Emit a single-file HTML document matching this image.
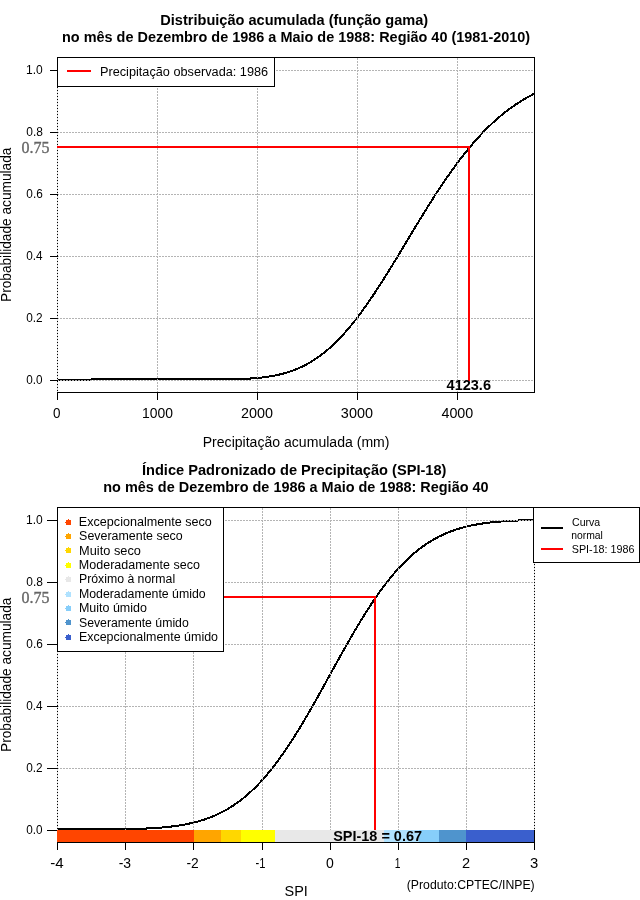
<!DOCTYPE html>
<html><head><meta charset="utf-8"><title>SPI</title>
<style>
html,body{margin:0;padding:0;background:#fff;}
body{width:640px;height:900px;overflow:hidden;}
svg{display:block;will-change:transform;}
text{font-family:"Liberation Sans",sans-serif;fill:#000;}
.b{font-weight:bold;}
.se{font-family:"Liberation Serif",serif;fill:#666;stroke:#666;stroke-width:0.35;}
.g{stroke:#b4b4b4;stroke-width:1;stroke-dasharray:2 1;fill:none;}
.e{stroke:#dcdcdc;stroke-width:1;stroke-dasharray:2 1;fill:none;}
.k{stroke:#000;stroke-width:1;fill:none;}
.r{stroke:#ff0000;stroke-width:2;fill:none;}
.c{stroke:#000;stroke-width:2;fill:none;stroke-linejoin:round;}
</style></head><body>
<svg width="640" height="900" viewBox="0 0 640 900">
<rect x="0" y="0" width="640" height="900" fill="#ffffff"/>

<g shape-rendering="crispEdges">
<path class="c" d="M57.50,379.60 L58.50,379.60 L59.50,379.60 L60.50,379.60 L61.50,379.60 L62.50,379.60 L63.50,379.60 L64.50,379.60 L65.50,379.60 L66.50,379.60 L67.50,379.60 L68.50,379.60 L69.50,379.60 L70.50,379.60 L71.50,379.60 L72.50,379.60 L73.50,379.60 L74.50,379.60 L75.50,379.60 L76.50,379.60 L77.50,379.60 L78.50,379.60 L79.50,379.60 L80.50,379.60 L81.50,379.60 L82.50,379.60 L83.50,379.60 L84.50,379.60 L85.50,379.60 L86.50,379.60 L87.50,379.60 L88.50,379.60 L89.50,379.60 L90.50,379.60 L91.50,379.45 L92.50,379.45 L93.50,379.45 L94.50,379.45 L95.50,379.45 L96.50,379.45 L97.50,379.45 L98.50,379.45 L99.50,379.45 L100.50,379.45 L101.50,379.45 L102.50,379.45 L103.50,379.45 L104.50,379.45 L105.50,379.45 L106.50,379.45 L107.50,379.45 L108.50,379.45 L109.50,379.45 L110.50,379.45 L111.50,379.45 L112.50,379.45 L113.50,379.45 L114.50,379.45 L115.50,379.45 L116.50,379.45 L117.50,379.45 L118.50,379.45 L119.50,379.45 L120.50,379.45 L121.50,379.45 L122.50,379.45 L123.50,379.45 L124.50,379.45 L125.50,379.45 L126.50,379.45 L127.50,379.45 L128.50,379.45 L129.50,379.45 L130.50,379.45 L131.50,379.45 L132.50,379.45 L133.50,379.45 L134.50,379.45 L135.50,379.45 L136.50,379.45 L137.50,379.45 L138.50,379.45 L139.50,379.45 L140.50,379.45 L141.50,379.45 L142.50,379.45 L143.50,379.45 L144.50,379.45 L145.50,379.45 L146.50,379.45 L147.50,379.45 L148.50,379.45 L149.50,379.45 L150.50,379.45 L151.50,379.45 L152.50,379.45 L153.50,379.45 L154.50,379.45 L155.50,379.45 L156.50,379.45 L157.50,379.45 L158.50,379.45 L159.50,379.45 L160.50,379.45 L161.50,379.45 L162.50,379.45 L163.50,379.45 L164.50,379.45 L165.50,379.45 L166.50,379.45 L167.50,379.45 L168.50,379.45 L169.50,379.45 L170.50,379.45 L171.50,379.45 L172.50,379.45 L173.50,379.45 L174.50,379.45 L175.50,379.45 L176.50,379.45 L177.50,379.45 L178.50,379.45 L179.50,379.45 L180.50,379.45 L181.50,379.45 L182.50,379.45 L183.50,379.45 L184.50,379.45 L185.50,379.45 L186.50,379.45 L187.50,379.45 L188.50,379.45 L189.50,379.45 L190.50,379.45 L191.50,379.45 L192.50,379.45 L193.50,379.45 L194.50,379.45 L195.50,379.45 L196.50,379.45 L197.50,379.45 L198.50,379.45 L199.50,379.45 L200.50,379.45 L201.50,379.45 L202.50,379.45 L203.50,379.45 L204.50,379.45 L205.50,379.45 L206.50,379.45 L207.50,379.45 L208.50,379.45 L209.50,379.45 L210.50,379.45 L211.50,379.45 L212.50,379.45 L213.50,379.45 L214.50,379.45 L215.50,379.45 L216.50,379.45 L217.50,379.45 L218.50,379.45 L219.50,379.45 L220.50,379.45 L221.50,379.45 L222.50,379.45 L223.50,379.44 L224.50,379.42 L225.50,379.41 L226.50,379.39 L227.50,379.38 L228.50,379.36 L229.50,379.34 L230.50,379.32 L231.50,379.30 L232.50,379.27 L233.50,379.25 L234.50,379.22 L235.50,379.20 L236.50,379.17 L237.50,379.13 L238.50,379.10 L239.50,379.07 L240.50,379.03 L241.50,378.99 L242.50,378.95 L243.50,378.90 L244.50,378.85 L245.50,378.80 L246.50,378.75 L247.50,378.70 L248.50,378.64 L249.50,378.58 L250.50,378.51 L251.50,378.44 L252.50,378.37 L253.50,378.30 L254.50,378.22 L255.50,378.13 L256.50,378.04 L257.50,377.95 L258.50,377.86 L259.50,377.76 L260.50,377.65 L261.50,377.54 L262.50,377.42 L263.50,377.30 L264.50,377.18 L265.50,377.04 L266.50,376.91 L267.50,376.76 L268.50,376.61 L269.50,376.46 L270.50,376.29 L271.50,376.12 L272.50,375.95 L273.50,375.76 L274.50,375.57 L275.50,375.37 L276.50,375.17 L277.50,374.95 L278.50,374.73 L279.50,374.50 L280.50,374.26 L281.50,374.01 L282.50,373.76 L283.50,373.49 L284.50,373.21 L285.50,372.93 L286.50,372.64 L287.50,372.33 L288.50,372.02 L289.50,371.69 L290.50,371.35 L291.50,371.01 L292.50,370.65 L293.50,370.28 L294.50,369.90 L295.50,369.51 L296.50,369.11 L297.50,368.69 L298.50,368.26 L299.50,367.83 L300.50,367.37 L301.50,366.91 L302.50,366.43 L303.50,365.94 L304.50,365.44 L305.50,364.92 L306.50,364.39 L307.50,363.84 L308.50,363.28 L309.50,362.71 L310.50,362.13 L311.50,361.52 L312.50,360.91 L313.50,360.28 L314.50,359.63 L315.50,358.98 L316.50,358.30 L317.50,357.61 L318.50,356.91 L319.50,356.19 L320.50,355.45 L321.50,354.70 L322.50,353.94 L323.50,353.15 L324.50,352.36 L325.50,351.55 L326.50,350.72 L327.50,349.87 L328.50,349.01 L329.50,348.14 L330.50,347.25 L331.50,346.34 L332.50,345.41 L333.50,344.48 L334.50,343.52 L335.50,342.55 L336.50,341.56 L337.50,340.56 L338.50,339.54 L339.50,338.51 L340.50,337.46 L341.50,336.39 L342.50,335.31 L343.50,334.21 L344.50,333.10 L345.50,331.97 L346.50,330.83 L347.50,329.67 L348.50,328.50 L349.50,327.31 L350.50,326.11 L351.50,324.89 L352.50,323.66 L353.50,322.42 L354.50,321.16 L355.50,319.88 L356.50,318.60 L357.50,317.29 L358.50,315.98 L359.50,314.65 L360.50,313.31 L361.50,311.95 L362.50,310.59 L363.50,309.21 L364.50,307.81 L365.50,306.41 L366.50,304.99 L367.50,303.56 L368.50,302.13 L369.50,300.68 L370.50,299.21 L371.50,297.74 L372.50,296.26 L373.50,294.77 L374.50,293.26 L375.50,291.75 L376.50,290.23 L377.50,288.70 L378.50,287.16 L379.50,285.61 L380.50,284.06 L381.50,282.49 L382.50,280.92 L383.50,279.34 L384.50,277.76 L385.50,276.16 L386.50,274.56 L387.50,272.96 L388.50,271.35 L389.50,269.73 L390.50,268.11 L391.50,266.48 L392.50,264.85 L393.50,263.22 L394.50,261.58 L395.50,259.93 L396.50,258.29 L397.50,256.64 L398.50,254.99 L399.50,253.33 L400.50,251.67 L401.50,250.02 L402.50,248.36 L403.50,246.69 L404.50,245.03 L405.50,243.37 L406.50,241.71 L407.50,240.04 L408.50,238.38 L409.50,236.72 L410.50,235.06 L411.50,233.40 L412.50,231.74 L413.50,230.08 L414.50,228.43 L415.50,226.78 L416.50,225.13 L417.50,223.48 L418.50,221.84 L419.50,220.20 L420.50,218.57 L421.50,216.93 L422.50,215.31 L423.50,213.68 L424.50,212.07 L425.50,210.45 L426.50,208.85 L427.50,207.25 L428.50,205.65 L429.50,204.06 L430.50,202.48 L431.50,200.90 L432.50,199.33 L433.50,197.77 L434.50,196.21 L435.50,194.66 L436.50,193.12 L437.50,191.59 L438.50,190.06 L439.50,188.54 L440.50,187.03 L441.50,185.53 L442.50,184.04 L443.50,182.56 L444.50,181.08 L445.50,179.62 L446.50,178.16 L447.50,176.72 L448.50,175.28 L449.50,173.86 L450.50,172.44 L451.50,171.03 L452.50,169.64 L453.50,168.25 L454.50,166.88 L455.50,165.51 L456.50,164.16 L457.50,162.82 L458.50,161.48 L459.50,160.16 L460.50,158.85 L461.50,157.55 L462.50,156.26 L463.50,154.99 L464.50,153.72 L465.50,152.47 L466.50,151.23 L467.50,150.00 L468.50,148.78 L469.50,147.57 L470.50,146.37 L471.50,145.19 L472.50,144.02 L473.50,142.86 L474.50,141.71 L475.50,140.57 L476.50,139.45 L477.50,138.33 L478.50,137.23 L479.50,136.14 L480.50,135.07 L481.50,134.00 L482.50,132.95 L483.50,131.91 L484.50,130.88 L485.50,129.86 L486.50,128.86 L487.50,127.86 L488.50,126.88 L489.50,125.91 L490.50,124.95 L491.50,124.01 L492.50,123.07 L493.50,122.15 L494.50,121.24 L495.50,120.34 L496.50,119.45 L497.50,118.57 L498.50,117.71 L499.50,116.85 L500.50,116.01 L501.50,115.18 L502.50,114.36 L503.50,113.55 L504.50,112.75 L505.50,111.97 L506.50,111.19 L507.50,110.43 L508.50,109.67 L509.50,108.93 L510.50,108.20 L511.50,107.48 L512.50,106.76 L513.50,106.06 L514.50,105.37 L515.50,104.69 L516.50,104.02 L517.50,103.36 L518.50,102.71 L519.50,102.07 L520.50,101.45 L521.50,100.83 L522.50,100.21 L523.50,99.61 L524.50,99.02 L525.50,98.44 L526.50,97.87 L527.50,97.31 L528.50,96.75 L529.50,96.21 L530.50,95.67 L531.50,95.14 L532.50,94.63 L533.50,94.12 L534.50,93.62"/>
<rect class="k" x="57.5" y="57.5" width="477.0" height="335.0"/>
<line class="g" x1="157.5" y1="58.0" x2="157.5" y2="392.0"/>
<line class="g" x1="257.5" y1="58.0" x2="257.5" y2="392.0"/>
<line class="g" x1="357.5" y1="58.0" x2="357.5" y2="392.0"/>
<line class="g" x1="457.5" y1="58.0" x2="457.5" y2="392.0"/>
<line class="g" stroke-dashoffset="1" x1="58.0" y1="70.5" x2="534.0" y2="70.5"/>
<line class="g" stroke-dashoffset="1" x1="58.0" y1="132.5" x2="534.0" y2="132.5"/>
<line class="g" stroke-dashoffset="1" x1="58.0" y1="194.5" x2="534.0" y2="194.5"/>
<line class="g" stroke-dashoffset="1" x1="58.0" y1="256.5" x2="534.0" y2="256.5"/>
<line class="g" stroke-dashoffset="1" x1="58.0" y1="318.5" x2="534.0" y2="318.5"/>
<line class="g" stroke-dashoffset="1" x1="58.0" y1="380.5" x2="534.0" y2="380.5"/>
<line class="e" x1="57.5" y1="58.0" x2="57.5" y2="392.0"/>
<line class="k" x1="50" y1="70.5" x2="57.5" y2="70.5"/>
<line class="k" x1="50" y1="132.5" x2="57.5" y2="132.5"/>
<line class="k" x1="50" y1="194.5" x2="57.5" y2="194.5"/>
<line class="k" x1="50" y1="256.5" x2="57.5" y2="256.5"/>
<line class="k" x1="50" y1="318.5" x2="57.5" y2="318.5"/>
<line class="k" x1="50" y1="380.5" x2="57.5" y2="380.5"/>
<path class="r" d="M57,147 H470 M469,146 V380.5"/>
<line class="k" x1="57.5" y1="392.5" x2="57.5" y2="400"/>
<line class="k" x1="157.5" y1="392.5" x2="157.5" y2="400"/>
<line class="k" x1="257.5" y1="392.5" x2="257.5" y2="400"/>
<line class="k" x1="357.5" y1="392.5" x2="357.5" y2="400"/>
<line class="k" x1="457.5" y1="392.5" x2="457.5" y2="400"/>
<rect x="57.5" y="57.5" width="217" height="29" fill="#fff" stroke="#000" stroke-width="1"/>
<line class="r" x1="67" y1="71" x2="91" y2="71"/>
</g>
<text transform="translate(11,302) rotate(-90)" x="0" y="0" font-size="14" textLength="154.4" lengthAdjust="spacingAndGlyphs">Probabilidade acumulada</text>
<g shape-rendering="crispEdges">
<path class="c" d="M57.50,829.45 L58.50,829.45 L59.50,829.45 L60.50,829.45 L61.50,829.45 L62.50,829.45 L63.50,829.45 L64.50,829.45 L65.50,829.45 L66.50,829.45 L67.50,829.45 L68.50,829.45 L69.50,829.45 L70.50,829.45 L71.50,829.45 L72.50,829.45 L73.50,829.45 L74.50,829.45 L75.50,829.45 L76.50,829.45 L77.50,829.45 L78.50,829.45 L79.50,829.45 L80.50,829.45 L81.50,829.45 L82.50,829.45 L83.50,829.45 L84.50,829.45 L85.50,829.45 L86.50,829.45 L87.50,829.45 L88.50,829.45 L89.50,829.45 L90.50,829.45 L91.50,829.45 L92.50,829.45 L93.50,829.45 L94.50,829.45 L95.50,829.45 L96.50,829.45 L97.50,829.45 L98.50,829.45 L99.50,829.45 L100.50,829.45 L101.50,829.45 L102.50,829.45 L103.50,829.45 L104.50,829.45 L105.50,829.45 L106.50,829.44 L107.50,829.43 L108.50,829.42 L109.50,829.41 L110.50,829.40 L111.50,829.39 L112.50,829.38 L113.50,829.37 L114.50,829.36 L115.50,829.35 L116.50,829.33 L117.50,829.32 L118.50,829.30 L119.50,829.29 L120.50,829.27 L121.50,829.26 L122.50,829.24 L123.50,829.22 L124.50,829.20 L125.50,829.18 L126.50,829.16 L127.50,829.14 L128.50,829.12 L129.50,829.10 L130.50,829.07 L131.50,829.05 L132.50,829.02 L133.50,828.99 L134.50,828.96 L135.50,828.93 L136.50,828.90 L137.50,828.87 L138.50,828.84 L139.50,828.80 L140.50,828.76 L141.50,828.72 L142.50,828.68 L143.50,828.64 L144.50,828.60 L145.50,828.55 L146.50,828.51 L147.50,828.46 L148.50,828.41 L149.50,828.35 L150.50,828.30 L151.50,828.24 L152.50,828.18 L153.50,828.12 L154.50,828.05 L155.50,827.99 L156.50,827.92 L157.50,827.84 L158.50,827.77 L159.50,827.69 L160.50,827.61 L161.50,827.53 L162.50,827.44 L163.50,827.35 L164.50,827.26 L165.50,827.16 L166.50,827.06 L167.50,826.96 L168.50,826.85 L169.50,826.74 L170.50,826.62 L171.50,826.51 L172.50,826.38 L173.50,826.26 L174.50,826.12 L175.50,825.99 L176.50,825.85 L177.50,825.70 L178.50,825.55 L179.50,825.39 L180.50,825.23 L181.50,825.07 L182.50,824.90 L183.50,824.72 L184.50,824.54 L185.50,824.35 L186.50,824.16 L187.50,823.96 L188.50,823.75 L189.50,823.54 L190.50,823.32 L191.50,823.09 L192.50,822.86 L193.50,822.62 L194.50,822.37 L195.50,822.12 L196.50,821.85 L197.50,821.58 L198.50,821.31 L199.50,821.02 L200.50,820.73 L201.50,820.43 L202.50,820.12 L203.50,819.80 L204.50,819.47 L205.50,819.13 L206.50,818.79 L207.50,818.43 L208.50,818.07 L209.50,817.69 L210.50,817.31 L211.50,816.91 L212.50,816.51 L213.50,816.09 L214.50,815.67 L215.50,815.23 L216.50,814.78 L217.50,814.33 L218.50,813.86 L219.50,813.38 L220.50,812.88 L221.50,812.38 L222.50,811.86 L223.50,811.34 L224.50,810.80 L225.50,810.24 L226.50,809.68 L227.50,809.10 L228.50,808.51 L229.50,807.90 L230.50,807.29 L231.50,806.66 L232.50,806.01 L233.50,805.35 L234.50,804.68 L235.50,804.00 L236.50,803.30 L237.50,802.58 L238.50,801.85 L239.50,801.11 L240.50,800.35 L241.50,799.58 L242.50,798.79 L243.50,797.99 L244.50,797.17 L245.50,796.34 L246.50,795.49 L247.50,794.63 L248.50,793.75 L249.50,792.86 L250.50,791.95 L251.50,791.02 L252.50,790.08 L253.50,789.12 L254.50,788.15 L255.50,787.16 L256.50,786.15 L257.50,785.13 L258.50,784.10 L259.50,783.04 L260.50,781.97 L261.50,780.89 L262.50,779.79 L263.50,778.67 L264.50,777.53 L265.50,776.38 L266.50,775.22 L267.50,774.03 L268.50,772.83 L269.50,771.62 L270.50,770.39 L271.50,769.14 L272.50,767.88 L273.50,766.60 L274.50,765.31 L275.50,764.00 L276.50,762.68 L277.50,761.34 L278.50,759.98 L279.50,758.61 L280.50,757.22 L281.50,755.82 L282.50,754.41 L283.50,752.98 L284.50,751.53 L285.50,750.08 L286.50,748.60 L287.50,747.12 L288.50,745.62 L289.50,744.10 L290.50,742.58 L291.50,741.04 L292.50,739.49 L293.50,737.92 L294.50,736.34 L295.50,734.75 L296.50,733.15 L297.50,731.54 L298.50,729.91 L299.50,728.28 L300.50,726.63 L301.50,724.97 L302.50,723.31 L303.50,721.63 L304.50,719.94 L305.50,718.25 L306.50,716.54 L307.50,714.83 L308.50,713.11 L309.50,711.38 L310.50,709.64 L311.50,707.89 L312.50,706.14 L313.50,704.38 L314.50,702.62 L315.50,700.85 L316.50,699.07 L317.50,697.29 L318.50,695.50 L319.50,693.71 L320.50,691.91 L321.50,690.12 L322.50,688.31 L323.50,686.51 L324.50,684.70 L325.50,682.89 L326.50,681.08 L327.50,679.27 L328.50,677.45 L329.50,675.64 L330.50,673.82 L331.50,672.01 L332.50,670.19 L333.50,668.38 L334.50,666.57 L335.50,664.76 L336.50,662.95 L337.50,661.14 L338.50,659.34 L339.50,657.54 L340.50,655.75 L341.50,653.96 L342.50,652.17 L343.50,650.39 L344.50,648.61 L345.50,646.84 L346.50,645.07 L347.50,643.31 L348.50,641.56 L349.50,639.81 L350.50,638.07 L351.50,636.34 L352.50,634.62 L353.50,632.90 L354.50,631.20 L355.50,629.50 L356.50,627.81 L357.50,626.13 L358.50,624.46 L359.50,622.81 L360.50,621.16 L361.50,619.52 L362.50,617.89 L363.50,616.28 L364.50,614.68 L365.50,613.08 L366.50,611.50 L367.50,609.94 L368.50,608.38 L369.50,606.84 L370.50,605.31 L371.50,603.80 L372.50,602.30 L373.50,600.81 L374.50,599.33 L375.50,597.87 L376.50,596.43 L377.50,594.99 L378.50,593.58 L379.50,592.18 L380.50,590.79 L381.50,589.41 L382.50,588.06 L383.50,586.72 L384.50,585.39 L385.50,584.08 L386.50,582.78 L387.50,581.50 L388.50,580.24 L389.50,578.99 L390.50,577.75 L391.50,576.54 L392.50,575.34 L393.50,574.15 L394.50,572.98 L395.50,571.83 L396.50,570.69 L397.50,569.57 L398.50,568.47 L399.50,567.38 L400.50,566.31 L401.50,565.25 L402.50,564.21 L403.50,563.19 L404.50,562.18 L405.50,561.19 L406.50,560.22 L407.50,559.26 L408.50,558.31 L409.50,557.38 L410.50,556.47 L411.50,555.58 L412.50,554.69 L413.50,553.83 L414.50,552.98 L415.50,552.14 L416.50,551.32 L417.50,550.52 L418.50,549.73 L419.50,548.96 L420.50,548.20 L421.50,547.45 L422.50,546.72 L423.50,546.00 L424.50,545.30 L425.50,544.62 L426.50,543.94 L427.50,543.28 L428.50,542.64 L429.50,542.00 L430.50,541.38 L431.50,540.78 L432.50,540.18 L433.50,539.60 L434.50,539.04 L435.50,538.48 L436.50,537.94 L437.50,537.41 L438.50,536.89 L439.50,536.39 L440.50,535.89 L441.50,535.41 L442.50,534.94 L443.50,534.48 L444.50,534.03 L445.50,533.59 L446.50,533.17 L447.50,532.75 L448.50,532.34 L449.50,531.95 L450.50,531.56 L451.50,531.19 L452.50,530.82 L453.50,530.46 L454.50,530.12 L455.50,529.78 L456.50,529.45 L457.50,529.13 L458.50,528.82 L459.50,528.51 L460.50,528.22 L461.50,527.93 L462.50,527.66 L463.50,527.38 L464.50,527.12 L465.50,526.87 L466.50,526.62 L467.50,526.38 L468.50,526.14 L469.50,525.92 L470.50,525.69 L471.50,525.48 L472.50,525.27 L473.50,525.07 L474.50,524.88 L475.50,524.69 L476.50,524.51 L477.50,524.33 L478.50,524.16 L479.50,523.99 L480.50,523.83 L481.50,523.67 L482.50,523.52 L483.50,523.37 L484.50,523.23 L485.50,523.10 L486.50,522.96 L487.50,522.84 L488.50,522.71 L489.50,522.59 L490.50,522.48 L491.50,522.36 L492.50,522.26 L493.50,522.15 L494.50,522.05 L495.50,521.96 L496.50,521.86 L497.50,521.77 L498.50,521.68 L499.50,521.60 L500.50,521.52 L501.50,521.44 L502.50,521.37 L503.50,521.29 L504.50,521.22 L505.50,521.16 L506.50,521.09 L507.50,521.03 L508.50,520.97 L509.50,520.91 L510.50,520.86 L511.50,520.80 L512.50,520.75 L513.50,520.70 L514.50,520.65 L515.50,520.61 L516.50,520.56 L517.50,520.52 L518.50,520.48 L519.50,520.44 L520.50,520.41 L521.50,520.37 L522.50,520.34 L523.50,520.30 L524.50,520.27 L525.50,520.24 L526.50,520.21 L527.50,520.18 L528.50,520.16 L529.50,520.13 L530.50,520.11 L531.50,520.08 L532.50,520.06 L533.50,520.04 L534.50,520.02"/>
<rect class="k" x="57.5" y="507.5" width="477.0" height="335.0"/>
<line class="g" x1="125.5" y1="508.0" x2="125.5" y2="842.0"/>
<line class="g" x1="193.5" y1="508.0" x2="193.5" y2="842.0"/>
<line class="g" x1="262.5" y1="508.0" x2="262.5" y2="842.0"/>
<line class="g" x1="330.5" y1="508.0" x2="330.5" y2="842.0"/>
<line class="g" x1="398.5" y1="508.0" x2="398.5" y2="842.0"/>
<line class="g" x1="466.5" y1="508.0" x2="466.5" y2="842.0"/>
<line class="g" stroke-dashoffset="1" x1="58.0" y1="520.5" x2="534.0" y2="520.5"/>
<line class="g" stroke-dashoffset="1" x1="58.0" y1="582.5" x2="534.0" y2="582.5"/>
<line class="g" stroke-dashoffset="1" x1="58.0" y1="644.5" x2="534.0" y2="644.5"/>
<line class="g" stroke-dashoffset="1" x1="58.0" y1="706.5" x2="534.0" y2="706.5"/>
<line class="g" stroke-dashoffset="1" x1="58.0" y1="768.5" x2="534.0" y2="768.5"/>
<line class="g" stroke-dashoffset="1" x1="58.0" y1="830.5" x2="534.0" y2="830.5"/>
<line class="e" x1="57.5" y1="508.0" x2="57.5" y2="842.0"/>
<line class="e" x1="534.5" y1="508.0" x2="534.5" y2="842.0"/>
<line class="k" x1="47" y1="520.5" x2="57.5" y2="520.5"/>
<line class="k" x1="47" y1="582.5" x2="57.5" y2="582.5"/>
<line class="k" x1="47" y1="644.5" x2="57.5" y2="644.5"/>
<line class="k" x1="47" y1="706.5" x2="57.5" y2="706.5"/>
<line class="k" x1="47" y1="768.5" x2="57.5" y2="768.5"/>
<line class="k" x1="47" y1="830.5" x2="57.5" y2="830.5"/>
<path class="r" d="M224,597 H376 M375,596 V830"/>
<rect x="57" y="830" width="137" height="12" fill="#ff4500"/>
<rect x="194" y="830" width="27" height="12" fill="#ffa500"/>
<rect x="221" y="830" width="20" height="12" fill="#ffd700"/>
<rect x="241" y="830" width="34" height="12" fill="#ffff00"/>
<rect x="275" y="830" width="109" height="12" fill="#e8e8e8"/>
<rect x="384" y="830" width="35" height="12" fill="#b0e2ff"/>
<rect x="419" y="830" width="20" height="12" fill="#87cefa"/>
<rect x="439" y="830" width="27" height="12" fill="#4f94cd"/>
<rect x="466" y="830" width="68" height="12" fill="#3a5fcd"/>
<line class="k" x1="534.5" y1="830" x2="534.5" y2="842"/>
<line class="k" x1="57" y1="842.5" x2="535" y2="842.5"/>
<line class="k" x1="57.5" y1="842.5" x2="57.5" y2="850"/>
<line class="k" x1="125.5" y1="842.5" x2="125.5" y2="850"/>
<line class="k" x1="193.5" y1="842.5" x2="193.5" y2="850"/>
<line class="k" x1="262.5" y1="842.5" x2="262.5" y2="850"/>
<line class="k" x1="330.5" y1="842.5" x2="330.5" y2="850"/>
<line class="k" x1="398.5" y1="842.5" x2="398.5" y2="850"/>
<line class="k" x1="466.5" y1="842.5" x2="466.5" y2="850"/>
<line class="k" x1="534.5" y1="842.5" x2="534.5" y2="850"/>
<rect x="57.5" y="507.5" width="166" height="144" fill="#fff" stroke="#000" stroke-width="1"/>
<rect x="533.5" y="507.5" width="106" height="55" fill="#fff" stroke="#000" stroke-width="1"/>
<line class="c" x1="541" y1="528" x2="563" y2="528"/>
<line class="r" x1="541" y1="549" x2="563" y2="549"/>
<path fill="#ff4500" d="M66,520 h2 v-1 h1 v1 h2 v5 h-5 v-2 h-1 v-1 h1 z"/>
<path fill="#ffa500" d="M66,534 h2 v-1 h1 v1 h2 v5 h-5 v-2 h-1 v-1 h1 z"/>
<path fill="#ffd700" d="M66,548 h2 v-1 h1 v1 h2 v5 h-5 v-2 h-1 v-1 h1 z"/>
<path fill="#ffff00" d="M66,563 h2 v-1 h1 v1 h2 v5 h-5 v-2 h-1 v-1 h1 z"/>
<path fill="#e8e8e8" d="M66,577 h2 v-1 h1 v1 h2 v5 h-5 v-2 h-1 v-1 h1 z"/>
<path fill="#b0e2ff" d="M66,592 h2 v-1 h1 v1 h2 v5 h-5 v-2 h-1 v-1 h1 z"/>
<path fill="#87cefa" d="M66,606 h2 v-1 h1 v1 h2 v5 h-5 v-2 h-1 v-1 h1 z"/>
<path fill="#4f94cd" d="M66,620 h2 v-1 h1 v1 h2 v5 h-5 v-2 h-1 v-1 h1 z"/>
<path fill="#3a5fcd" d="M66,635 h2 v-1 h1 v1 h2 v5 h-5 v-2 h-1 v-1 h1 z"/>
</g>
<text transform="translate(11,752) rotate(-90)" x="0" y="0" font-size="14" textLength="154.4" lengthAdjust="spacingAndGlyphs">Probabilidade acumulada</text>
<text x="25.96" y="74.00" font-size="12" textLength="16.71" lengthAdjust="spacingAndGlyphs">1.0</text>
<text x="26.27" y="136.00" font-size="12" textLength="16.63" lengthAdjust="spacingAndGlyphs">0.8</text>
<text x="26.32" y="198.00" font-size="12" textLength="16.41" lengthAdjust="spacingAndGlyphs">0.6</text>
<text x="26.27" y="260.00" font-size="12" textLength="16.34" lengthAdjust="spacingAndGlyphs">0.4</text>
<text x="26.27" y="322.00" font-size="12" textLength="16.42" lengthAdjust="spacingAndGlyphs">0.2</text>
<text x="26.28" y="384.00" font-size="12" textLength="16.31" lengthAdjust="spacingAndGlyphs">0.0</text>
<text x="21.52" y="152.75" font-size="16" class="se" textLength="27.96" lengthAdjust="spacingAndGlyphs">0.75</text>
<text x="25.96" y="524.00" font-size="12" textLength="16.71" lengthAdjust="spacingAndGlyphs">1.0</text>
<text x="26.27" y="586.00" font-size="12" textLength="16.63" lengthAdjust="spacingAndGlyphs">0.8</text>
<text x="26.32" y="648.00" font-size="12" textLength="16.41" lengthAdjust="spacingAndGlyphs">0.6</text>
<text x="26.27" y="710.00" font-size="12" textLength="16.34" lengthAdjust="spacingAndGlyphs">0.4</text>
<text x="26.27" y="772.00" font-size="12" textLength="16.42" lengthAdjust="spacingAndGlyphs">0.2</text>
<text x="26.28" y="834.00" font-size="12" textLength="16.31" lengthAdjust="spacingAndGlyphs">0.0</text>
<text x="21.52" y="602.75" font-size="16" class="se" textLength="27.96" lengthAdjust="spacingAndGlyphs">0.75</text>
<text x="99.95" y="75.90" font-size="12.5" textLength="168.20" lengthAdjust="spacingAndGlyphs">Precipitação observada: 1986</text>
<text x="160.25" y="24.50" font-size="14.4" class="b" textLength="267.98" lengthAdjust="spacingAndGlyphs">Distribuição acumulada (função gama)</text>
<text x="62.00" y="41.50" font-size="14.4" class="b" textLength="468.18" lengthAdjust="spacingAndGlyphs">no mês de Dezembro de 1986 a Maio de 1988: Região 40 (1981-2010)</text>
<text x="202.72" y="446.50" font-size="14" textLength="186.80" lengthAdjust="spacingAndGlyphs">Precipitação acumulada (mm)</text>
<text x="446.60" y="390.20" font-size="14.3" class="b" textLength="44.36" lengthAdjust="spacingAndGlyphs">4123.6</text>
<text x="78.85" y="525.70" font-size="12.5" textLength="133.03" lengthAdjust="spacingAndGlyphs">Excepcionalmente seco</text>
<text x="79.11" y="540.10" font-size="12.5" textLength="103.63" lengthAdjust="spacingAndGlyphs">Severamente seco</text>
<text x="79.07" y="554.50" font-size="12.5" textLength="61.83" lengthAdjust="spacingAndGlyphs">Muito seco</text>
<text x="78.89" y="568.90" font-size="12.5" textLength="120.97" lengthAdjust="spacingAndGlyphs">Moderadamente seco</text>
<text x="78.95" y="583.30" font-size="12.5" textLength="96.22" lengthAdjust="spacingAndGlyphs">Próximo à normal</text>
<text x="78.94" y="597.70" font-size="12.5" textLength="126.74" lengthAdjust="spacingAndGlyphs">Moderadamente úmido</text>
<text x="78.89" y="612.10" font-size="12.5" textLength="68.05" lengthAdjust="spacingAndGlyphs">Muito úmido</text>
<text x="78.96" y="626.50" font-size="12.5" textLength="109.82" lengthAdjust="spacingAndGlyphs">Severamente úmido</text>
<text x="78.91" y="640.90" font-size="12.5" textLength="139.10" lengthAdjust="spacingAndGlyphs">Excepcionalmente úmido</text>
<text x="572.06" y="525.60" font-size="10.5" textLength="28.20" lengthAdjust="spacingAndGlyphs">Curva</text>
<text x="571.21" y="538.75" font-size="10.5" textLength="31.72" lengthAdjust="spacingAndGlyphs">normal</text>
<text x="571.73" y="552.75" font-size="10.5" textLength="62.80" lengthAdjust="spacingAndGlyphs">SPI-18: 1986</text>
<text x="141.93" y="474.50" font-size="14.4" class="b" textLength="304.57" lengthAdjust="spacingAndGlyphs">Índice Padronizado de Precipitação (SPI-18)</text>
<text x="103.25" y="491.50" font-size="14.4" class="b" textLength="385.32" lengthAdjust="spacingAndGlyphs">no mês de Dezembro de 1986 a Maio de 1988: Região 40</text>
<text x="284.51" y="896.25" font-size="14" textLength="23.30" lengthAdjust="spacingAndGlyphs">SPI</text>
<text x="333.21" y="840.50" font-size="14.3" class="b" textLength="88.80" lengthAdjust="spacingAndGlyphs">SPI-18 = 0.67</text>
<text x="406.81" y="888.75" font-size="12" textLength="127.89" lengthAdjust="spacingAndGlyphs">(Produto:CPTEC/INPE)</text>
<text x="53.07" y="417.90" font-size="14" textLength="7.50" lengthAdjust="spacingAndGlyphs">0</text>
<text x="142.05" y="417.90" font-size="14" textLength="30.95" lengthAdjust="spacingAndGlyphs">1000</text>
<text x="240.96" y="417.90" font-size="14" textLength="32.00" lengthAdjust="spacingAndGlyphs">2000</text>
<text x="340.86" y="417.90" font-size="14" textLength="32.08" lengthAdjust="spacingAndGlyphs">3000</text>
<text x="441.44" y="417.90" font-size="14" textLength="31.83" lengthAdjust="spacingAndGlyphs">4000</text>
<text x="50.20" y="867.70" font-size="14" textLength="13.45" lengthAdjust="spacingAndGlyphs">-4</text>
<text x="118.64" y="867.70" font-size="14" textLength="12.41" lengthAdjust="spacingAndGlyphs">-3</text>
<text x="186.53" y="867.70" font-size="14" textLength="12.29" lengthAdjust="spacingAndGlyphs">-2</text>
<text x="255.60" y="867.70" font-size="14" textLength="9.93" lengthAdjust="spacingAndGlyphs">-1</text>
<text x="326.04" y="867.70" font-size="14" textLength="7.82" lengthAdjust="spacingAndGlyphs">0</text>
<text x="394.81" y="867.70" font-size="14" textLength="5.70" lengthAdjust="spacingAndGlyphs">1</text>
<text x="461.98" y="867.70" font-size="14" textLength="8.12" lengthAdjust="spacingAndGlyphs">2</text>
<text x="529.97" y="867.70" font-size="14" textLength="8.26" lengthAdjust="spacingAndGlyphs">3</text>
</svg></body></html>
